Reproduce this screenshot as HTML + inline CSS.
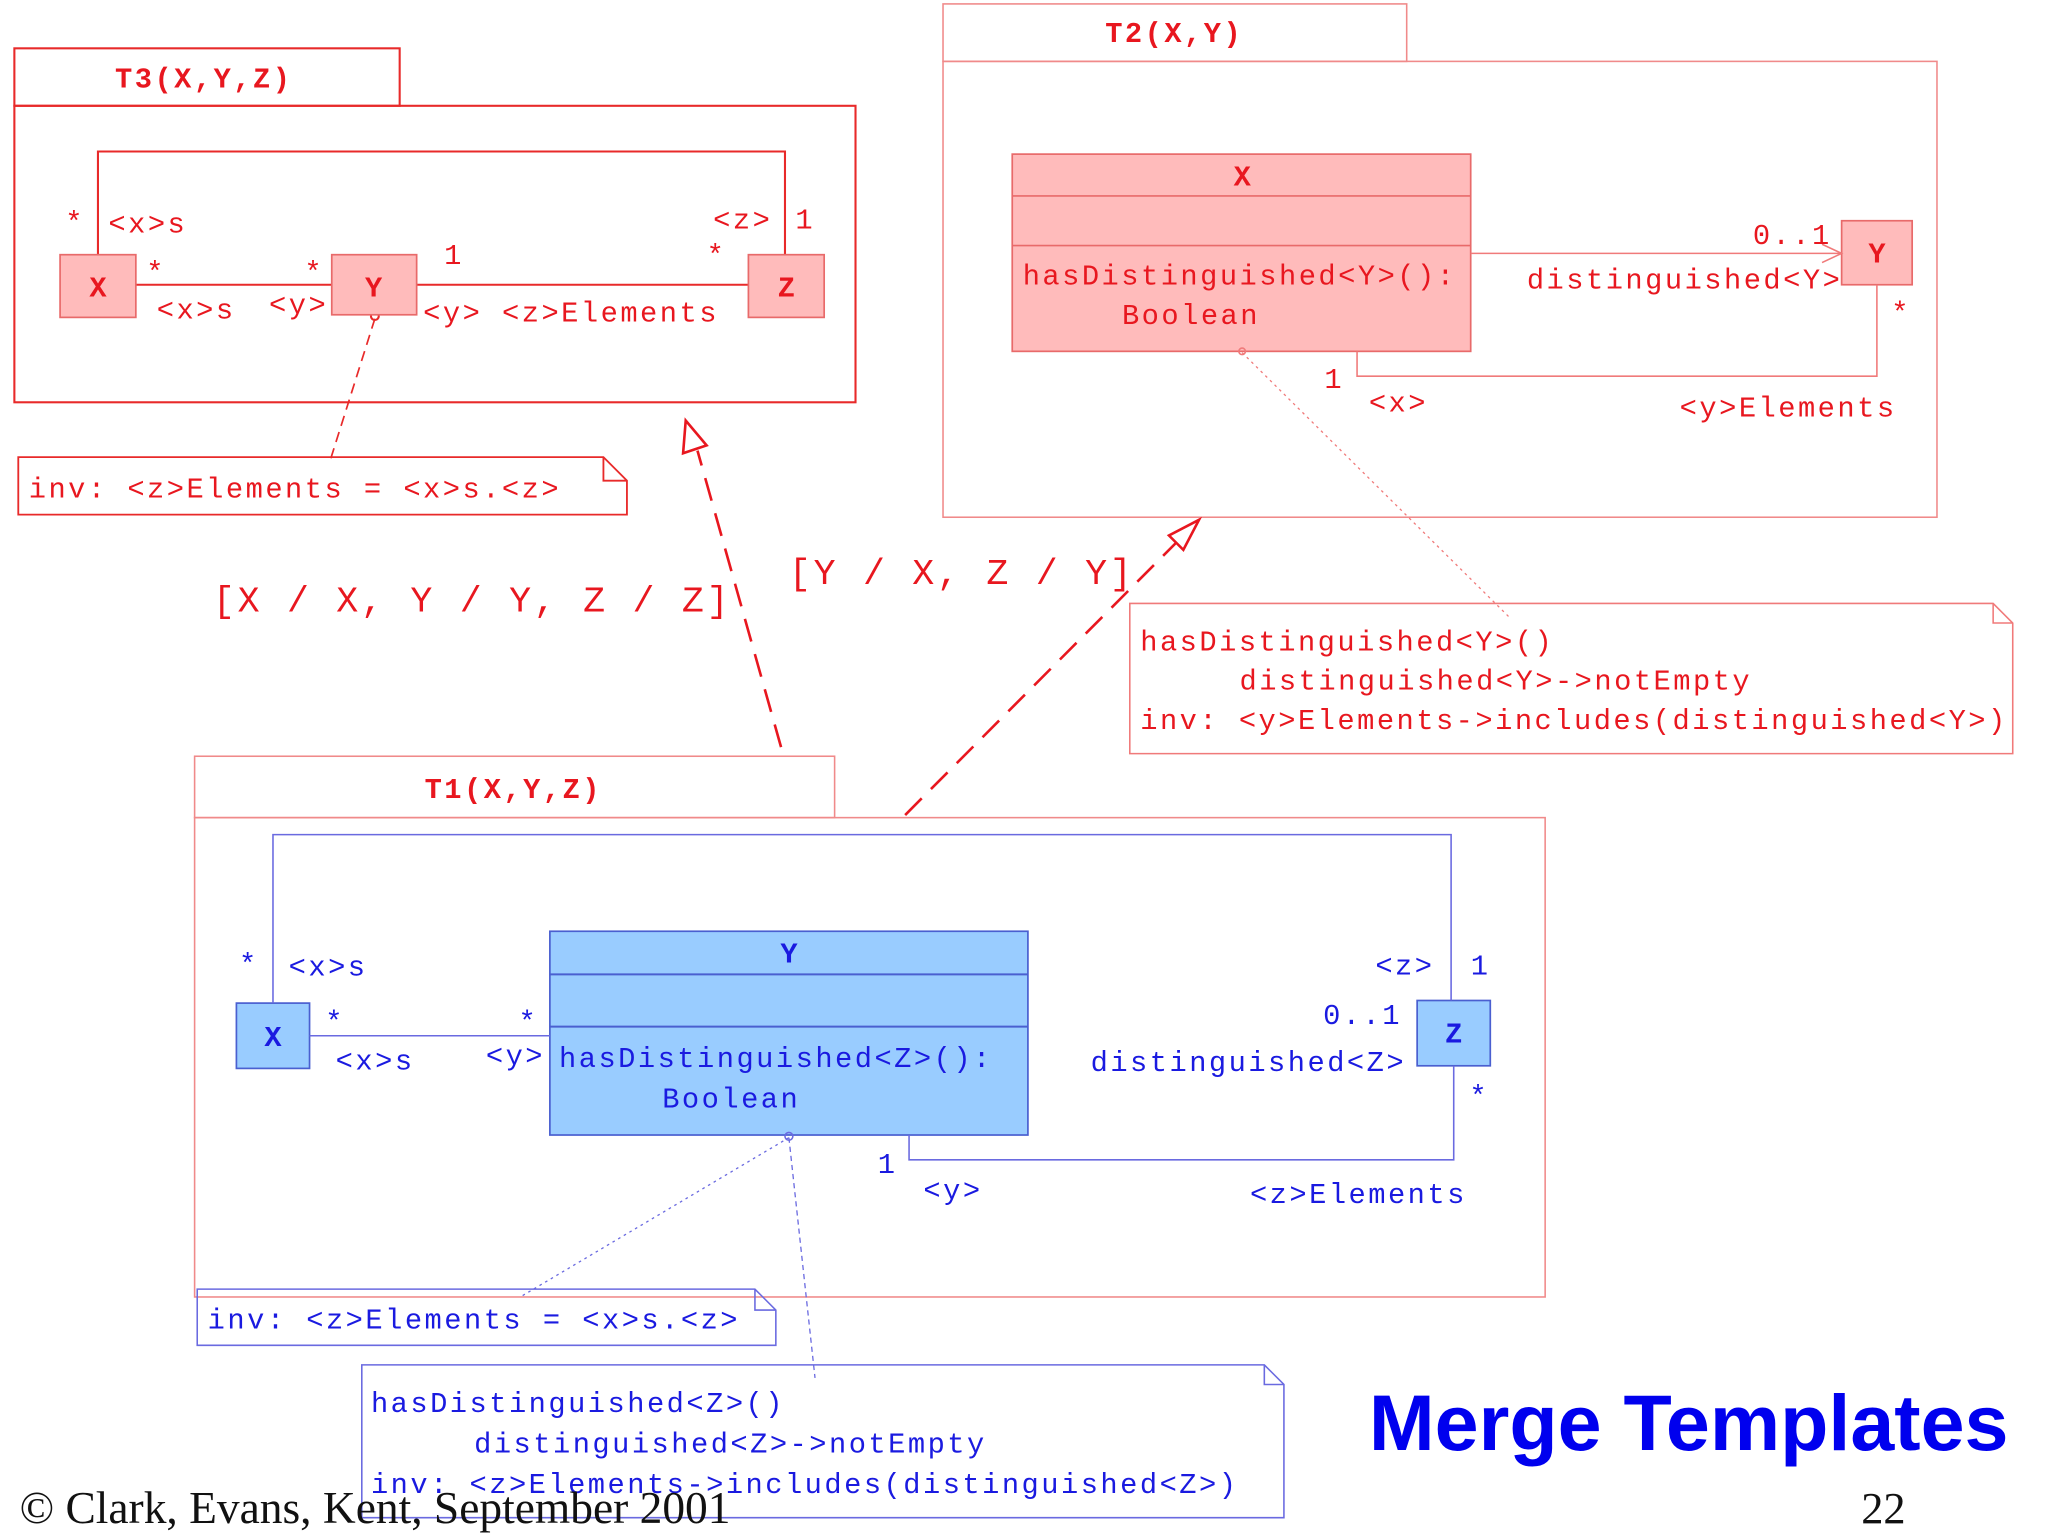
<!DOCTYPE html>
<html><head><meta charset="utf-8"><style>
html,body{margin:0;padding:0;background:#fff;}
svg{display:block;}
text{font-family:"Liberation Mono",monospace;}
.r{fill:#e8171f;} .b{fill:#1a1ae0;}
.bd{font-weight:bold;}
.ls{letter-spacing:1.9px;}
</style></head><body>
<svg width="2048" height="1536" viewBox="0 0 1568 1176" xmlns="http://www.w3.org/2000/svg">
<rect width="1568" height="1176" fill="#fff"/>
<!-- T3 -->
<g fill="none" stroke="#e82a2a" stroke-width="1.6">
<rect x="11" y="37" width="295" height="44"/>
<rect x="11" y="81" width="644" height="227"/>
<polyline points="75,195 75,116 601,116 601,195"/>
<line x1="104" y1="218" x2="254" y2="218"/>
<line x1="319" y1="218" x2="573" y2="218"/>
<line x1="287" y1="244" x2="252" y2="355" stroke-dasharray="8,5" stroke-width="1.3"/>
<circle cx="287" cy="242" r="3"/>
<path d="M14,350 H462 L480,368 V394 H14 Z M462,350 V368 H480" stroke-width="1.4"/>
</g>
<g fill="#ffbbbb" stroke="#e86a6a" stroke-width="1.3">
<rect x="46" y="195" width="58" height="48"/>
<rect x="254" y="195" width="65" height="46"/>
<rect x="573" y="195" width="58" height="48"/>
</g>
<g class="r ls" font-size="22">
<text x="156" y="67" text-anchor="middle" class="bd">T3(X,Y,Z)</text>
<text x="76" y="227" text-anchor="middle" class="bd">X</text>
<text x="287" y="227" text-anchor="middle" class="bd">Y</text>
<text x="603" y="227" text-anchor="middle" class="bd">Z</text>
<text x="50" y="177">*</text><text x="83" y="178">&lt;x&gt;s</text>
<text x="112" y="215">*</text><text x="120" y="244">&lt;x&gt;s</text>
<text x="233" y="215">*</text><text x="206" y="240">&lt;y&gt;</text>
<text x="340" y="202">1</text><text x="324" y="246">&lt;y&gt; &lt;z&gt;Elements</text>
<text x="541" y="202">*</text><text x="546" y="175">&lt;z&gt;</text><text x="609" y="175">1</text>
<text x="22" y="381">inv: &lt;z&gt;Elements = &lt;x&gt;s.&lt;z&gt;</text>
</g>
<!-- T2 -->
<g fill="none" stroke="#f08a8a" stroke-width="1.2">
<rect x="722" y="3" width="355" height="44"/>
<rect x="722" y="47" width="761" height="349"/>
</g>
<rect x="775" y="118" width="351" height="151" fill="#ffbbbb" stroke="#e86a6a" stroke-width="1.3"/>
<line x1="775" y1="150" x2="1126" y2="150" stroke="#e86a6a" stroke-width="1.3"/>
<line x1="775" y1="188" x2="1126" y2="188" stroke="#e86a6a" stroke-width="1.3"/>
<rect x="1410" y="169" width="54" height="49" fill="#ffbbbb" stroke="#e86a6a" stroke-width="1.3"/>
<g fill="none" stroke="#f07a7a" stroke-width="1.2">
<line x1="1126" y1="194" x2="1410" y2="194"/>
<polyline points="1395,187 1410,194 1395,201"/>
<polyline points="1437,218 1437,288 1039,288 1039,269"/>
<line x1="951" y1="270" x2="1155" y2="472" stroke-dasharray="2,3" stroke-width="1"/>
<circle cx="951" cy="269" r="2.5"/>
<path d="M865,462 H1526 L1541,477 V577 H865 Z M1526,462 V477 H1541"/>
</g>
<g class="r ls" font-size="22">
<text x="899" y="32" text-anchor="middle" class="bd">T2(X,Y)</text>
<text x="952" y="142" text-anchor="middle" class="bd">X</text>
<text x="1438" y="201" text-anchor="middle" class="bd">Y</text>
<text x="783" y="218">hasDistinguished&lt;Y&gt;():</text>
<text x="859" y="248">Boolean</text>
<text x="1342" y="187">0..1</text>
<text x="1169" y="221">distinguished&lt;Y&gt;</text>
<text x="1448" y="246">*</text>
<text x="1014" y="297">1</text><text x="1048" y="315">&lt;x&gt;</text>
<text x="1286" y="319">&lt;y&gt;Elements</text>
<text x="873" y="498">hasDistinguished&lt;Y&gt;()</text>
<text x="949" y="528">distinguished&lt;Y&gt;-&gt;notEmpty</text>
<text x="873" y="558">inv: &lt;y&gt;Elements-&gt;includes(distinguished&lt;Y&gt;)</text>
</g>
<!-- mapping arrows -->
<g fill="none" stroke="#e8171f" stroke-width="2">
<line x1="598" y1="572" x2="534" y2="345" stroke-dasharray="18,10"/>
<polygon points="525,322 523,347 541,341" fill="#fff"/>
<line x1="693" y1="624" x2="902" y2="414" stroke-dasharray="18,10"/>
<polygon points="918,398 895,410 906,421" fill="#fff"/>
</g>
<g class="r" font-size="28" style="letter-spacing:2.1px">
<text x="163" y="468">[X / X, Y / Y, Z / Z]</text>
<text x="604" y="447">[Y / X, Z / Y]</text>
</g>
<!-- T1 -->
<g fill="none" stroke="#f08a8a" stroke-width="1.2">
<rect x="149" y="579" width="490" height="47"/>
<rect x="149" y="626" width="1034" height="367"/>
</g>
<g fill="#99ccff" stroke="#4a5fd0" stroke-width="1.3">
<rect x="181" y="768" width="56" height="50"/>
<rect x="421" y="713" width="366" height="156"/>
<rect x="1085" y="766" width="56" height="50"/>
</g>
<line x1="421" y1="746" x2="787" y2="746" stroke="#4a5fd0" stroke-width="1.5"/>
<line x1="421" y1="786" x2="787" y2="786" stroke="#4a5fd0" stroke-width="1.5"/>
<g fill="none" stroke="#6a6ae0" stroke-width="1.2">
<polyline points="209,768 209,639 1111,639 1111,766"/>
<line x1="237" y1="793" x2="421" y2="793"/>
<polyline points="1113,816 1113,888 696,888 696,869"/>
<line x1="604" y1="871" x2="400" y2="992" stroke-dasharray="2,3" stroke-width="1"/>
<line x1="604" y1="871" x2="624" y2="1055" stroke-dasharray="4,3" stroke-width="1"/>
<circle cx="604" cy="870" r="3"/>
<path d="M151,987 H578 L594,1003 V1030 H151 Z M578,987 V1003 H594"/>
<path d="M277,1045 H968 L983,1060 V1162 H277 Z M968,1045 V1060 H983"/>
</g>
<text x="393" y="611" text-anchor="middle" class="r bd ls" font-size="22">T1(X,Y,Z)</text>
<g class="b ls" font-size="22">
<text x="210" y="801" text-anchor="middle" class="bd">X</text>
<text x="605" y="737" text-anchor="middle" class="bd">Y</text>
<text x="1114" y="798" text-anchor="middle" class="bd">Z</text>
<text x="428" y="817">hasDistinguished&lt;Z&gt;():</text>
<text x="507" y="848">Boolean</text>
<text x="183" y="745">*</text><text x="221" y="747">&lt;x&gt;s</text>
<text x="249" y="789">*</text><text x="257" y="819">&lt;x&gt;s</text>
<text x="397" y="789">*</text><text x="372" y="815">&lt;y&gt;</text>
<text x="1053" y="746">&lt;z&gt;</text><text x="1126" y="746">1</text>
<text x="1013" y="784">0..1</text>
<text x="835" y="820">distinguished&lt;Z&gt;</text>
<text x="1125" y="846">*</text>
<text x="672" y="898">1</text><text x="707" y="918">&lt;y&gt;</text>
<text x="957" y="921">&lt;z&gt;Elements</text>
<text x="159" y="1017">inv: &lt;z&gt;Elements = &lt;x&gt;s.&lt;z&gt;</text>
<text x="284" y="1081">hasDistinguished&lt;Z&gt;()</text>
<text x="363" y="1112">distinguished&lt;Z&gt;-&gt;notEmpty</text>
<text x="284" y="1143">inv: &lt;z&gt;Elements-&gt;includes(distinguished&lt;Z&gt;)</text>
</g>
<text x="1048" y="1110" fill="#0000ee" font-weight="bold" font-size="60.5" style="font-family:'Liberation Sans',sans-serif">Merge Templates</text>
<text x="15" y="1166" fill="#111" font-size="34.8" style="font-family:'Liberation Serif',serif">© Clark, Evans, Kent, September 2001</text>
<text x="1425" y="1166" fill="#111" font-size="34" style="font-family:'Liberation Serif',serif">22</text>
</svg>
</body></html>
